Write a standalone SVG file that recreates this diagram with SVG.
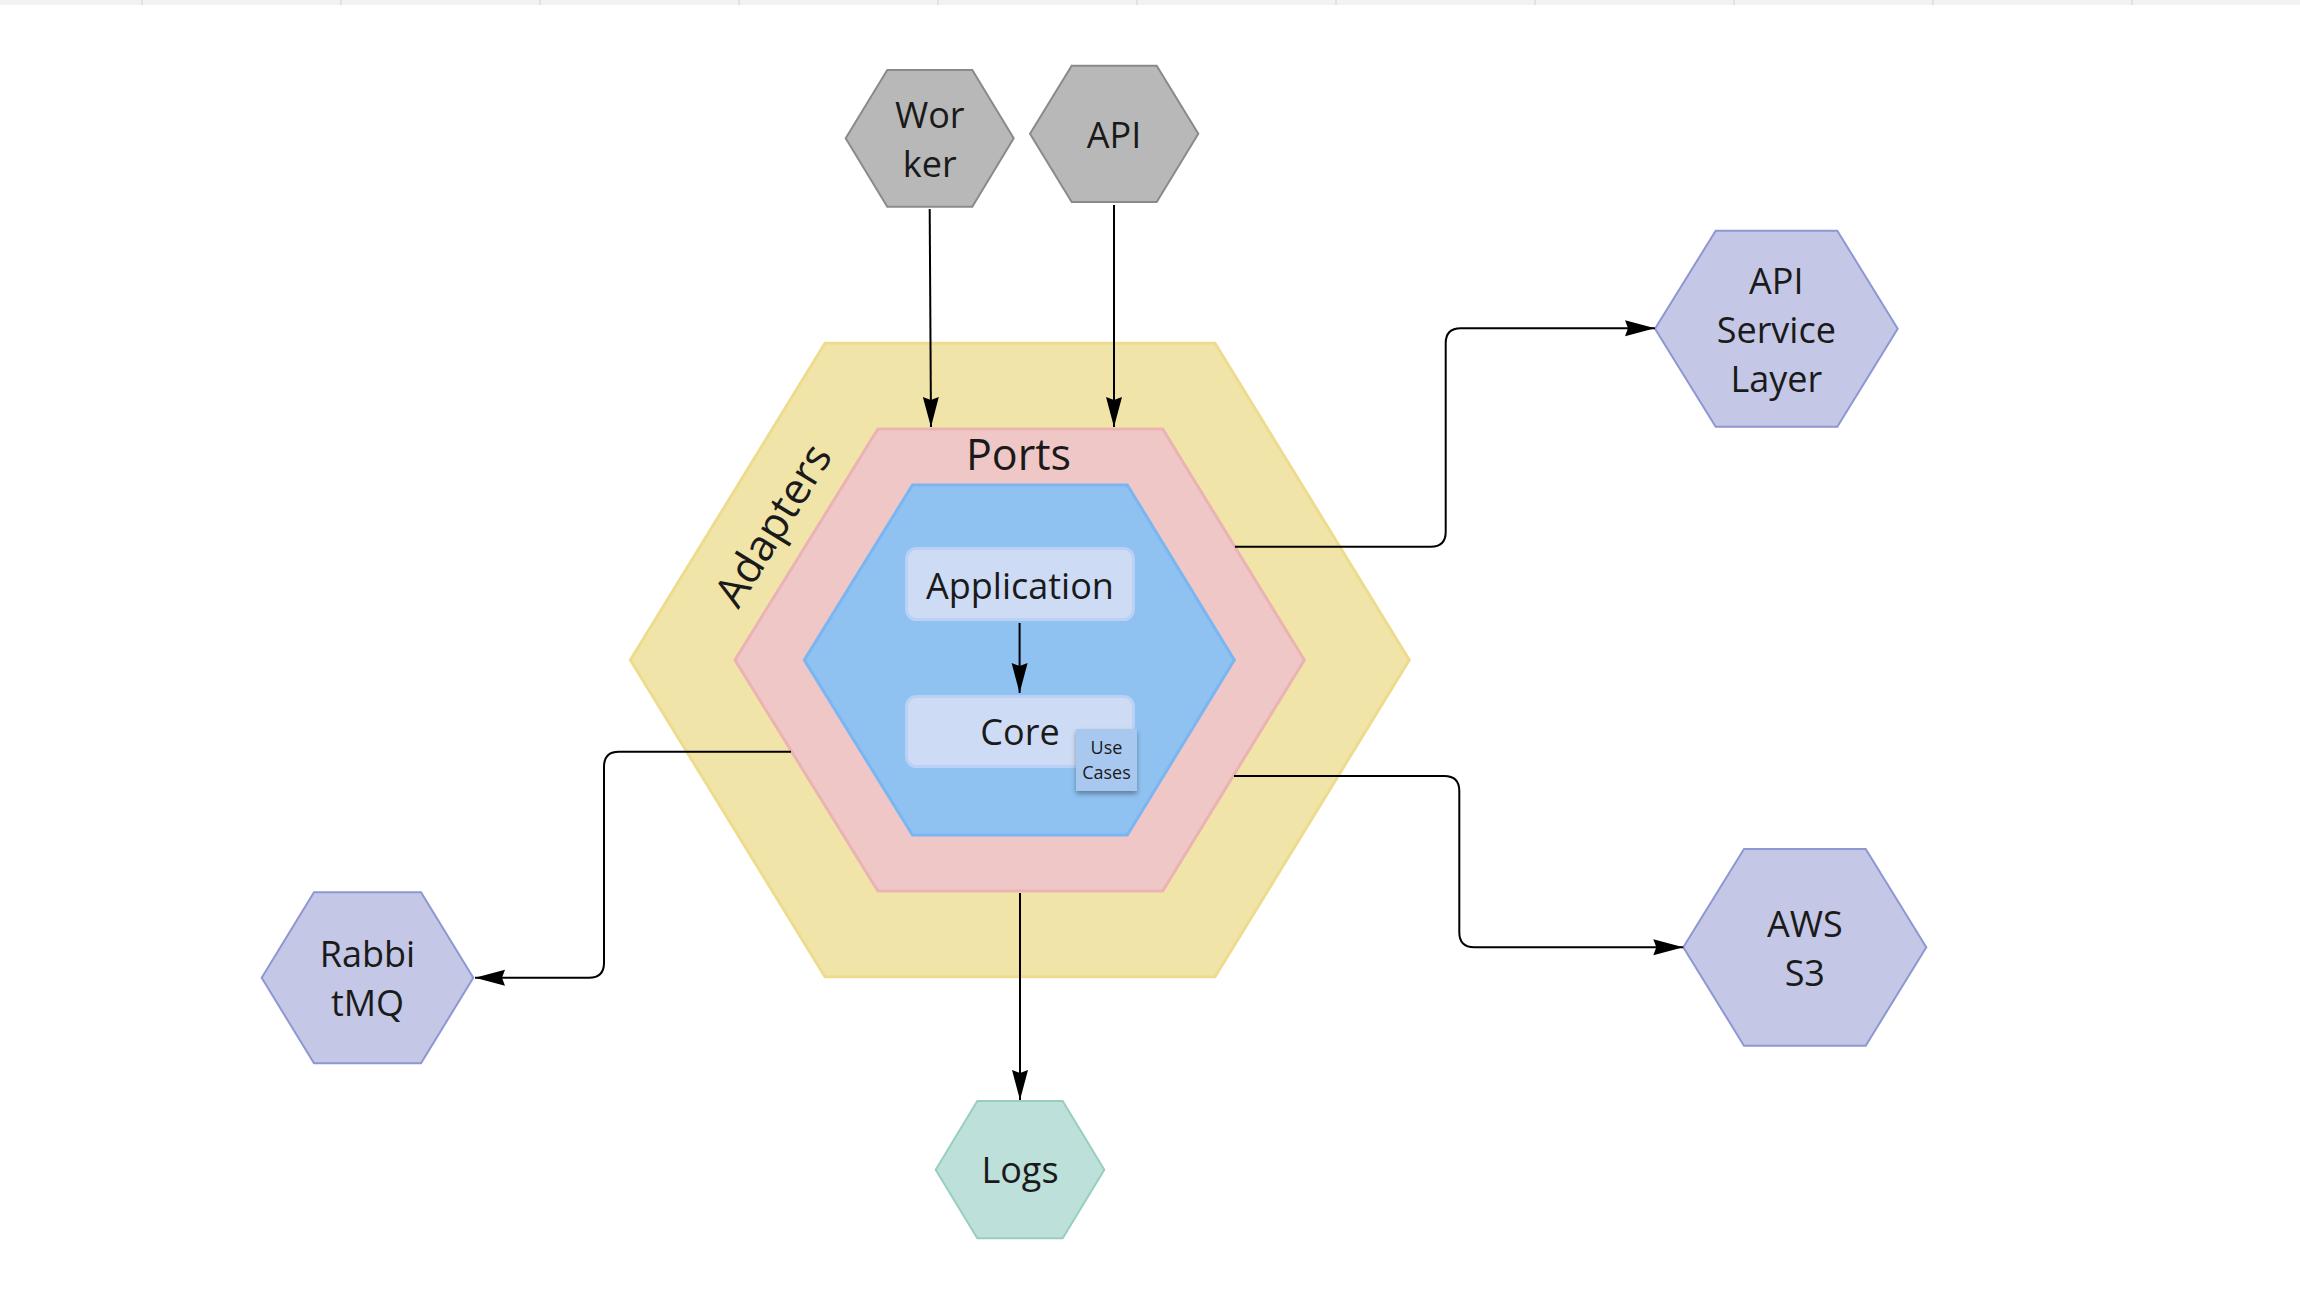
<svg xmlns="http://www.w3.org/2000/svg" width="2300" height="1300" viewBox="0 0 2300 1300">
<defs>
<marker id="arr" markerUnits="userSpaceOnUse" markerWidth="32" markerHeight="18" refX="30" refY="8" orient="auto">
<path d="M0,0 L30,8 L0,16 L3,8 z" fill="#000"/>
</marker>
<filter id="sh" x="-20%" y="-20%" width="140%" height="150%">
<feDropShadow dx="0" dy="3" stdDeviation="2.5" flood-color="#000" flood-opacity="0.35"/>
</filter>
<style>
text{font-family:"Open Sans","Noto Sans","Liberation Sans",sans-serif;fill:#1a1a1a;text-anchor:middle}
.n{font-size:36px}
.gray{fill:#b8b8b8;stroke:#8a8a8a;stroke-width:2}
.purple{fill:#c4c7e5;stroke:#8e97d2;stroke-width:2}
.teal{fill:#bee0da;stroke:#97cfbf;stroke-width:2}
.box{fill:#cddcf4;stroke:#bad0f5;stroke-width:3}
.c{fill:none;stroke:#000;stroke-width:2;marker-end:url(#arr)}
</style>
</defs>
<rect x="0" y="0" width="2300" height="1300" fill="#fff"/>
<g id="topbar">
<rect x="0" y="0" width="2300" height="5" fill="#f2f2f2"/>
<g fill="#e2e2e2">
<rect x="141" y="0" width="2" height="5"/><rect x="340" y="0" width="2" height="5"/><rect x="539" y="0" width="2" height="5"/><rect x="738" y="0" width="2" height="5"/><rect x="937" y="0" width="2" height="5"/><rect x="1136" y="0" width="2" height="5"/><rect x="1335" y="0" width="2" height="5"/><rect x="1534" y="0" width="2" height="5"/><rect x="1733" y="0" width="2" height="5"/><rect x="1932" y="0" width="2" height="5"/><rect x="2131" y="0" width="2" height="5"/>
</g>
</g>
<g id="adapters">
<polygon points="825,343.3 1215,343.3 1409.3,660 1215,976.7 825,976.7 630.4,660" fill="#f1e4a9" stroke="#eedc8e" stroke-width="3"/>
<text transform="translate(773,525) rotate(-58.4)" x="0" y="15" style="font-size:43px">Adapters</text>
</g>
<g id="ports">
<polygon points="877.9,429 1162.7,429 1304.3,660 1162.7,891 877.9,891 735,660" fill="#efc7c7" stroke="#ebb3b3" stroke-width="3"/>
<text x="1018.5" y="470" style="font-size:43px">Ports</text>
</g>
<g id="core-hex">
<polygon points="912.5,485 1127.3,485 1234.3,660 1127.3,835 912.5,835 804.3,660" fill="#8fc2f1" stroke="#79b6f2" stroke-width="3"/>
</g>
<g id="application">
<rect class="box" x="906.5" y="548.5" width="227" height="71" rx="10"/>
<text class="n" x="1020" y="598.5">Application</text>
</g>
<g id="core">
<rect class="box" x="906.5" y="696.5" width="227" height="70" rx="10"/>
<text class="n" x="1020" y="745">Core</text>
</g>
<g id="use-cases">
<rect x="1076" y="729" width="61" height="62" fill="#a9c8f0" filter="url(#sh)"/>
<text x="1106.5" y="754" style="font-size:18px">Use</text>
<text x="1106.5" y="778.5" style="font-size:18px">Cases</text>
</g>
<g id="worker">
<polygon class="gray" points="845.7,138.3 887.3,70 972.3,70 1013.7,138.3 972.3,206.7 887.3,206.7"/>
<text class="n" x="929.7" y="127.7">Wor</text>
<text class="n" x="929.7" y="176.7">ker</text>
</g>
<g id="api">
<polygon class="gray" points="1030,133.8 1071.7,65.7 1156.7,65.7 1198.3,133.8 1156.7,202 1071.7,202"/>
<text class="n" x="1114" y="147.7">API</text>
</g>
<g id="api-service-layer">
<polygon class="purple" points="1655,328.7 1715.7,230.7 1837.3,230.7 1897.7,328.7 1837.3,426.7 1715.7,426.7"/>
<text class="n" x="1776.3" y="294">API</text>
<text class="n" x="1776.3" y="343">Service</text>
<text class="n" x="1776.3" y="392">Layer</text>
</g>
<g id="aws-s3">
<polygon class="purple" points="1683.3,947.3 1744,849 1865.7,849 1926.3,947.3 1865.7,1045.7 1744,1045.7"/>
<text class="n" x="1804.8" y="937">AWS</text>
<text class="n" x="1804.8" y="986">S3</text>
</g>
<g id="rabbitmq">
<polygon class="purple" points="261.7,977.8 314,892.3 421,892.3 473.3,977.8 421,1063.3 314,1063.3"/>
<text class="n" x="367.5" y="967.3">Rabbi</text>
<text class="n" x="367.5" y="1016">tMQ</text>
</g>
<g id="logs">
<polygon class="teal" points="935.7,1169.7 977.3,1101 1062.7,1101 1104.3,1169.7 1062.7,1238.3 977.3,1238.3"/>
<text class="n" x="1020" y="1183.3">Logs</text>
</g>
<g id="connectors">
<path class="c" d="M929.7,209 L931,427"/>
<path class="c" d="M1114,205 V427"/>
<path class="c" d="M1019.6,623 V693"/>
<path class="c" d="M1235,546.7 H1430.7 Q1445.7,546.7 1445.7,531.7 V343.3 Q1445.7,328.3 1460.7,328.3 H1655"/>
<path class="c" d="M1234,776 H1444.3 Q1459.3,776 1459.3,791 V932.3 Q1459.3,947.3 1474.3,947.3 H1683.3"/>
<path class="c" d="M791,751.7 H619 Q604,751.7 604,766.7 V962.7 Q604,977.7 589,977.7 H475"/>
<path class="c" d="M1020,893 V1100"/>
</g>
</svg>
